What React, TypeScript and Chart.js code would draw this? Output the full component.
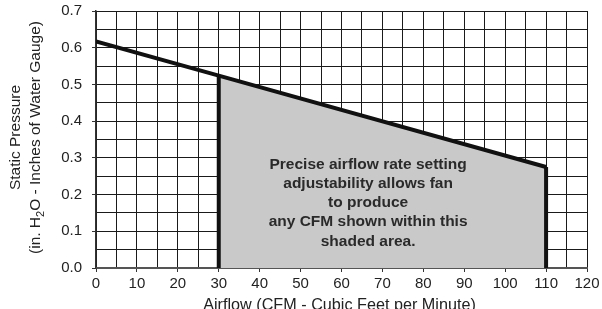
import React, { useEffect, useRef } from 'react';
import { Chart, registerables } from 'chart.js';
Chart.register(...registerables);

const curveAirflow = [0, 30, 110];
const curvePressure = [0.617, 0.524, 0.275];
const shadeAirflow = [30, 110];
const shadePressure = [0.524, 0.275];
const noteLines = [
  'Precise airflow rate setting',
  'adjustability allows fan',
  'to produce',
  'any CFM shown within this',
  'shaded area.',
];
const noteCenter = { x: 66.5, y: 0.177 };
const xTitle = 'Airflow (CFM - Cubic Feet per Minute)';
const yTitle1 = 'Static Pressure';
const yTitle2a = '(in. H';
const yTitle2sub = '2';
const yTitle2b = 'O - Inches of Water Gauge)';

const FONT = '"Liberation Sans", Arial, sans-serif';

const textPlugin = {
  id: 'textPlugin',
  afterDatasetsDraw(chart: any) {
    const ctx = chart.ctx;
    const xs = chart.scales.x;
    const ys = chart.scales.y;
    const cx = xs.getPixelForValue(noteCenter.x);
    const cy = ys.getPixelForValue(noteCenter.y);
    const lh = 19.2;
    ctx.save();
    ctx.fillStyle = '#2a2a2a';
    ctx.font = `bold 15.5px ${FONT}`;
    ctx.textAlign = 'center';
    ctx.textBaseline = 'middle';
    noteLines.forEach((t, i) => {
      ctx.fillText(t, cx, cy + (i - (noteLines.length - 1) / 2) * lh);
    });
    ctx.restore();
  },
  afterDraw(chart: any) {
    const ctx = chart.ctx;
    const area = chart.chartArea;
    ctx.save();
    ctx.fillStyle = '#222';
    ctx.font = `16.2px ${FONT}`;
    ctx.textAlign = 'center';
    ctx.textBaseline = 'alphabetic';
    ctx.fillText(xTitle, (area.left + area.right) / 2 - 2, 310);
    const midY = 137.5;
    ctx.translate(20, midY);
    ctx.rotate(-Math.PI / 2);
    ctx.font = `15.5px ${FONT}`;
    ctx.fillText(yTitle1, 0, 0);
    ctx.restore();
    ctx.save();
    ctx.fillStyle = '#222';
    ctx.translate(40, midY);
    ctx.rotate(-Math.PI / 2);
    ctx.textBaseline = 'alphabetic';
    ctx.font = `15.5px ${FONT}`;
    const wa = ctx.measureText(yTitle2a).width;
    const wb = ctx.measureText(yTitle2b).width;
    ctx.font = `11px ${FONT}`;
    const ws = ctx.measureText(yTitle2sub).width;
    const total = wa + ws + wb;
    let x0 = -total / 2;
    ctx.textAlign = 'left';
    ctx.font = `15.5px ${FONT}`;
    ctx.fillText(yTitle2a, x0, 0);
    x0 += wa;
    ctx.font = `11px ${FONT}`;
    ctx.fillText(yTitle2sub, x0, 4);
    x0 += ws;
    ctx.font = `15.5px ${FONT}`;
    ctx.fillText(yTitle2b, x0, 0);
    ctx.restore();
  },
};

export default function App() {
  const ref = useRef<HTMLCanvasElement>(null);
  useEffect(() => {
    if (!ref.current) return;
    const pts = (xs: number[], ys: number[]) => xs.map((x, i) => ({ x, y: ys[i] }));
    const chart = new Chart(ref.current, {
      type: 'line',
      data: {
        datasets: [
          {
            data: pts(shadeAirflow, shadePressure),
            fill: 'origin',
            backgroundColor: '#c9c9c9',
            borderWidth: 0,
            pointRadius: 0,
            order: 5,
          },
          {
            data: pts(curveAirflow, curvePressure),
            borderColor: '#111',
            borderWidth: 4,
            pointRadius: 0,
            fill: false,
            order: 1,
          },
          {
            data: [{ x: shadeAirflow[0], y: 0 }, { x: shadeAirflow[0], y: shadePressure[0] }],
            borderColor: '#111',
            borderWidth: 4,
            pointRadius: 0,
            fill: false,
            order: 2,
          },
          {
            data: [{ x: shadeAirflow[1], y: 0 }, { x: shadeAirflow[1], y: shadePressure[1] }],
            borderColor: '#111',
            borderWidth: 4,
            pointRadius: 0,
            fill: false,
            order: 2,
          },
        ],
      },
      options: {
        responsive: false,
        animation: false,
        layout: { padding: { left: 0, right: 15, top: 11, bottom: 0 } },
        plugins: { legend: { display: false }, tooltip: { enabled: false } },
        scales: {
          x: {
            type: 'linear',
            min: 0,
            max: 120,
            afterFit: (s: any) => { s.height = 41; s.paddingLeft = 0; s.paddingRight = 0; },
            ticks: {
              stepSize: 5,
              autoSkip: false,
              maxRotation: 0,
              padding: 3,
              color: '#222',
              font: { family: FONT, size: 15 },
              callback: (v: any) => (Math.round(v) % 10 === 0 ? String(Math.round(v)) : ''),
            },
            grid: {
              color: '#1a1a1a',
              lineWidth: 1,
              tickLength: 4,
              tickColor: (c: any) => (c.tick && Math.round(c.tick.value) % 10 === 0 ? '#333' : 'rgba(0,0,0,0)'),
            },
            border: { color: '#555', width: 2 },
          },
          y: {
            type: 'linear',
            min: 0,
            max: 0.7,
            afterFit: (s: any) => { s.width = 96; s.paddingTop = 0; s.paddingBottom = 0; },
            ticks: {
              stepSize: 0.05,
              autoSkip: false,
              padding: 10,
              color: '#222',
              font: { family: FONT, size: 15 },
              callback: (v: any) => (Math.round(v * 100) % 10 === 0 ? Number(v).toFixed(1) : ''),
            },
            grid: {
              color: '#1a1a1a',
              lineWidth: 1,
              tickLength: 4,
              tickColor: (c: any) => (c.tick && Math.round(c.tick.value * 100) % 10 === 0 ? '#333' : 'rgba(0,0,0,0)'),
            },
            border: { color: '#333', width: 1.5 },
          },
        },
      },
      plugins: [textPlugin],
    });
    return () => chart.destroy();
  }, []);
  return (
    <div style={{ position: 'fixed', left: 0, top: 0, width: 602, height: 309, background: '#fff' }}>
      <canvas ref={ref} width={602} height={309} />
    </div>
  );
}
